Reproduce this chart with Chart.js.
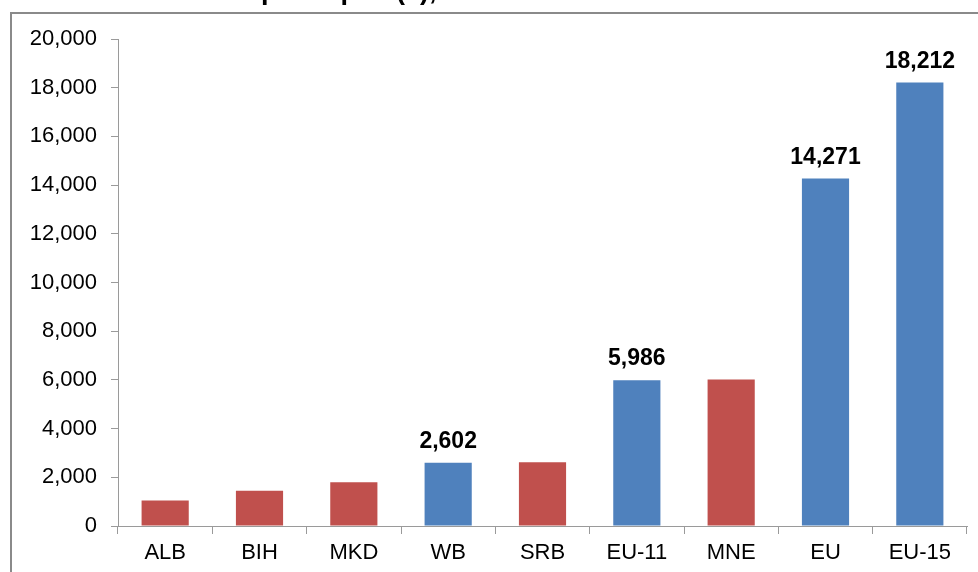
<!DOCTYPE html>
<html>
<head>
<meta charset="utf-8">
<script src="https://cdn.jsdelivr.net/npm/chart.js@4"></script>
<style>
  html, body { margin: 0; padding: 0; background: #fff; overflow: hidden; }
  #wrap { position: relative; width: 978px; height: 572px; }
  #frame { position: absolute; left: 10px; top: 12px; width: 1000px; height: 600px; border: 2px solid #8a8a8a; }
  canvas { position: absolute; left: 0; top: 0; }
</style>
</head>
<body>
<div id="wrap">
  <div id="frame"></div>
  <canvas id="grafico" width="978" height="572"></canvas>
</div>
<script>
// dados
const categorias = ['ALB', 'BIH', 'MKD', 'WB', 'SRB', 'EU-11', 'MNE', 'EU', 'EU-15'];
const pibPerCapita = [1050, 1450, 1800, 2602, 2620, 5986, 6020, 14271, 18212];
const agregado = [false, false, false, true, false, true, false, true, true];
const ticksY = [0, 2000, 4000, 6000, 8000, 10000, 12000, 14000, 16000, 18000, 20000];
const titulo = 'GDP per capita (€), 2013';

const AZUL = '#4F81BD';
const VERMELHO = '#C0504D';
const fmt = v => v.toLocaleString('en-US');

// rótulos de valor (só nas barras azuis)
const rotulosPlugin = {
    id: 'rotulos',
    afterDatasetsDraw(chart) {
        const ctx = chart.ctx;
        const meta = chart.getDatasetMeta(0);
        ctx.save();
        ctx.font = 'bold 23px "Liberation Sans", Arial, sans-serif';
        ctx.fillStyle = '#000';
        ctx.textAlign = 'center';
        ctx.textBaseline = 'alphabetic';
        meta.data.forEach((bar, i) => {
            if (!agregado[i]) return;
            ctx.fillText(fmt(pibPerCapita[i]), bar.x, bar.y - 15);
        });
        ctx.restore();
    }
};

// título cortado no topo (só aparecem as descendentes)
const tituloPlugin = {
    id: 'tituloCortado',
    afterDraw(chart) {
        const ctx = chart.ctx;
        ctx.save();
        ctx.font = 'bold 27px "Liberation Sans", Arial, sans-serif';
        ctx.fillStyle = '#000';
        ctx.textBaseline = 'alphabetic';
        const antes = ctx.measureText('GDP ').width;
        ctx.fillText(titulo, 261 - antes, -1.5);
        ctx.restore();
    }
};

const ctx = document.getElementById('grafico').getContext('2d');
new Chart(ctx, {
    type: 'bar',
    data: {
        labels: categorias,
        datasets: [{
            data: pibPerCapita,
            backgroundColor: agregado.map(a => a ? AZUL : VERMELHO),
            borderWidth: 0,
            barPercentage: 0.5,
            categoryPercentage: 1.0
        }]
    },
    options: {
        responsive: false,
        animation: false,
        layout: { padding: { top: 39, right: 11, left: 0, bottom: 0 } },
        plugins: {
            legend: { display: false },
            tooltip: { enabled: false }
        },
        scales: {
            x: {
                grid: {
                    display: true,
                    drawOnChartArea: false,
                    drawTicks: true,
                    tickLength: 8,
                    color: '#9a9a9a',
                    offset: true
                },
                border: { display: true, color: '#9a9a9a', width: 1 },
                ticks: {
                    color: '#000',
                    padding: 6,
                    font: { family: '"Liberation Sans", Arial, sans-serif', size: 22 }
                },
                afterFit(scale) { scale.height = 46; }
            },
            y: {
                min: 0,
                max: 20000,
                afterBuildTicks(scale) { scale.ticks = ticksY.map(v => ({ value: v })); },
                grid: {
                    display: true,
                    drawOnChartArea: false,
                    drawTicks: true,
                    tickLength: 7,
                    color: '#9a9a9a'
                },
                border: { display: true, color: '#9a9a9a', width: 1 },
                ticks: {
                    color: '#000',
                    padding: 14,
                    font: { family: '"Liberation Sans", Arial, sans-serif', size: 22 },
                    callback: v => fmt(v)
                },
                afterFit(scale) { scale.width = 118; }
            }
        }
    },
    plugins: [rotulosPlugin, tituloPlugin]
});
</script>
</body>
</html>
